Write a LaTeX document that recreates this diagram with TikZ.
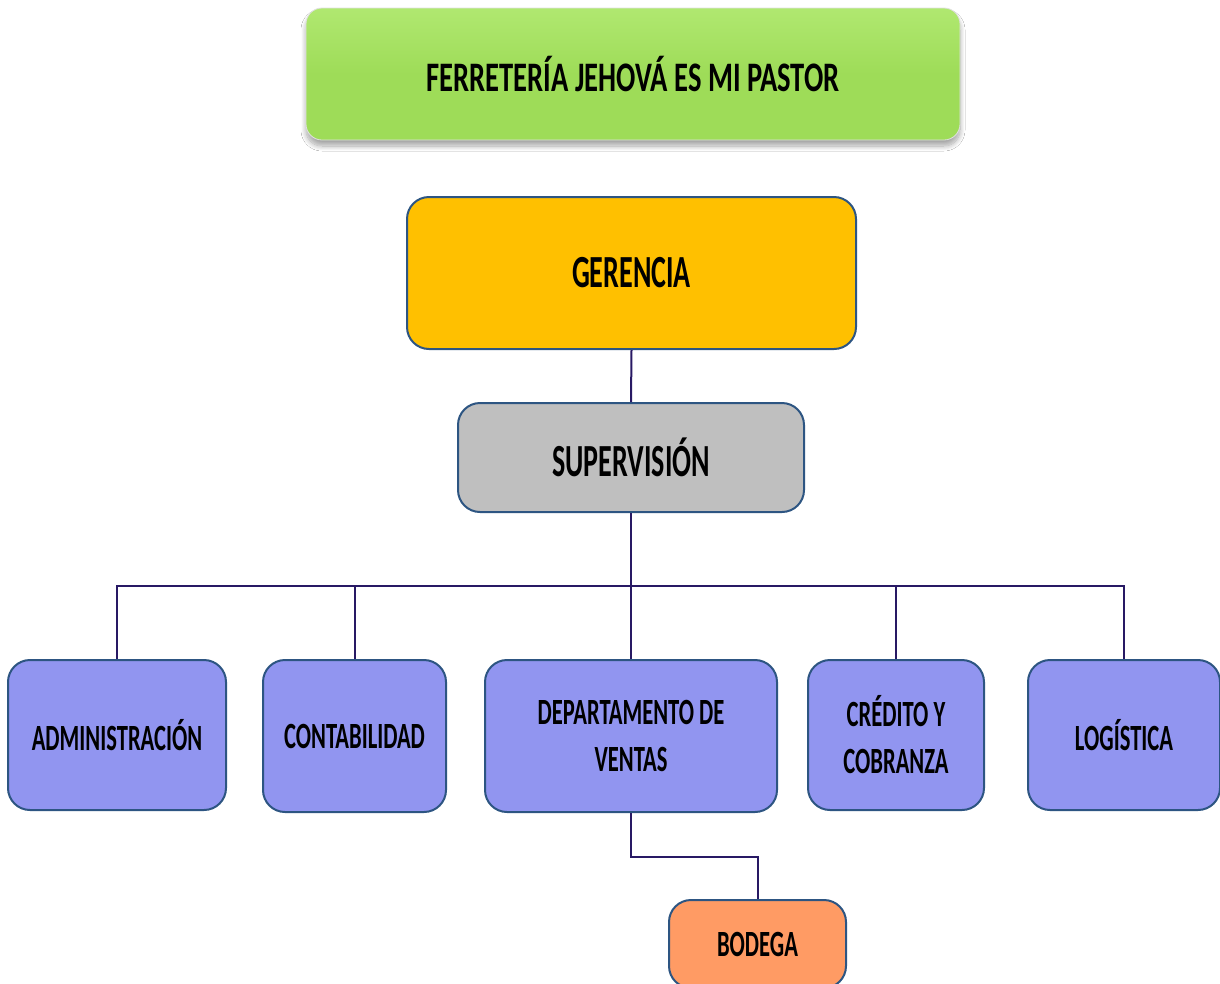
\documentclass[tikz,border=0pt]{standalone}
\usepackage{fontspec}
\usetikzlibrary{shadows.blur}
\newfontfamily\calibA[FakeStretch=0.61]{Carlito}
\newfontfamily\calibT[FakeStretch=0.68]{Carlito}
\definecolor{boxline}{RGB}{45,85,130}
\definecolor{connc}{RGB}{40,25,100}
\definecolor{titlegreen}{RGB}{158,220,88}
\definecolor{titlelight}{RGB}{176,232,112}
\definecolor{gerfill}{RGB}{255,192,0}
\definecolor{supfill}{RGB}{191,191,191}
\definecolor{deptblue}{RGB}{145,149,240}
\definecolor{bodfill}{RGB}{255,155,100}
\tikzset{
  box/.style={draw=boxline, line width=2pt, rounded corners=22pt, align=center,
    inner sep=0pt, font=\calibA\bfseries\fontsize{37}{47}\selectfont},
  bigbox/.style={box, font=\calibA\bfseries\fontsize{46}{50}\selectfont},
  dept/.style={box, fill=deptblue},
  conn/.style={draw=connc, line width=2pt}
}
\begin{document}
\begin{tikzpicture}[x=1pt,y=-1pt]
\useasboundingbox (0,0) rectangle (1220,983);
\clip (0,0) rectangle (1220,983);
\fill[white] (0,0) rectangle (1220,983);
% title
\node (tit) [draw=black!12, line width=0.8pt, rounded corners=16pt, top color=titlelight, bottom color=titlegreen,
  middle color=titlegreen, minimum width=654pt, minimum height=132pt,
  blur shadow={shadow yshift=-6pt, shadow xshift=0pt, shadow blur radius=5pt, shadow blur steps=10, shadow opacity=35},
  font=\calibT\bfseries\fontsize{42}{46}\selectfont] at (633,74) {FERRETERÍA JEHOVÁ ES MI PASTOR};
% top levels
\node (ger) [bigbox, fill=gerfill, minimum width=449pt, minimum height=152pt] at (631.5,273) {GERENCIA};
\node (sup) [bigbox, fill=supfill, minimum width=346pt, minimum height=109pt] at (631,457.5) {SUPERVISIÓN};
% departments
\node (adm) [dept, minimum width=218pt, minimum height=150pt] at (117,735) {ADMINISTRACIÓN};
\node (con) [dept, minimum width=183pt, minimum height=152pt] at (354.5,736) {CONTABILIDAD};
\node (dep) [dept, minimum width=292pt, minimum height=152pt] at (631,736) {DEPARTAMENTO DE\\VENTAS};
\node (cre) [dept, minimum width=176pt, minimum height=150pt] at (896,735) {CRÉDITO Y\\COBRANZA};
\node (log) [dept, minimum width=192pt, minimum height=150pt] at (1124,735) {LOGÍSTICA};
\node (bod) [box, fill=bodfill, minimum width=177pt, minimum height=88pt] at (757.5,944) {BODEGA};
% connectors
\coordinate (bus) at (631,586);
\coordinate (mid) at (631,857);
\draw[conn] (ger.south) -- (sup.north);
\draw[conn] (sup.south) -- (dep.north);
\draw[conn] (adm.north) |- (log.north |- bus) -- (log.north);
\draw[conn] (con.north) -- (con.north |- bus);
\draw[conn] (cre.north) -- (cre.north |- bus);
\draw[conn] (dep.south) |- (bod.north |- mid) -- (bod.north);
\end{tikzpicture}
\end{document}
